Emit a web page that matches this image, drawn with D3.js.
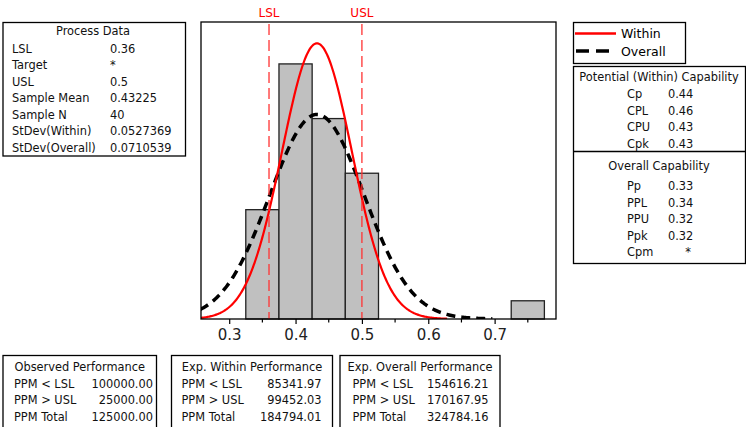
<!DOCTYPE html>
<html>
<head>
<meta charset="utf-8">
<script src="https://cdn.jsdelivr.net/npm/d3@7"></script>
<style>
  body { margin: 0; background: #fff; }
  svg { display: block; font-family: "DejaVu Sans", Verdana, sans-serif; }
</style>
</head>
<body>
<svg id="svg"></svg>
<script>
const width = 746, height = 427;

// histogram
const binStarts = [0.325, 0.375, 0.425, 0.475, 0.725];
const binCounts = [6, 14, 11, 8, 1];
const binWidth = 0.05;
const sampleN = 40;
const lsl = 0.36, usl = 0.5;
const mean = 0.43225;
const sdWithin = 0.0527369;
const sdOverall = 0.0710539;
const majorTicks = [0.3, 0.4, 0.5, 0.6, 0.7];
const minorTicks = [0.35, 0.45, 0.55, 0.65, 0.75];

// text tables
const processLabels = ["LSL", "Target", "USL", "Sample Mean", "Sample N", "StDev(Within)", "StDev(Overall)"];
const processValues = ["0.36", "*", "0.5", "0.43225", "40", "0.0527369", "0.0710539"];
const withinCapLabels = ["Cp", "CPL", "CPU", "Cpk"];
const withinCapValues = ["0.44", "0.46", "0.43", "0.43"];
const overallCapLabels = ["Pp", "PPL", "PPU", "Ppk", "Cpm"];
const overallCapValues = ["0.33", "0.34", "0.32", "0.32", "*"];
const perfLabels = ["PPM < LSL", "PPM > USL", "PPM Total"];
const observedPerf = ["100000.00", "25000.00", "125000.00"];
const withinPerf = ["85341.97", "99452.03", "184794.01"];
const overallPerf = ["154616.21", "170167.95", "324784.16"];

const svg = d3.select("#svg").attr("width", width).attr("height", height);

const plot = { left: 201, right: 556, top: 22, bottom: 319 };
const x = d3.scaleLinear().domain([0.2575, 0.7925]).range([plot.left, plot.right]);
const y = d3.scaleLinear().domain([0, 16.3]).range([plot.bottom, plot.top]);

svg.append("defs").append("clipPath").attr("id", "plotClip")
    .append("rect")
    .attr("x", plot.left).attr("y", plot.top)
    .attr("width", plot.right - plot.left).attr("height", plot.bottom - plot.top);

// bars
svg.append("g").selectAll("rect")
    .data(binStarts.map((s, i) => ({ x0: s, x1: s + binWidth, n: binCounts[i] })))
    .enter()
    .append("rect")
    .attr("x", d => x(d.x0))
    .attr("y", d => y(d.n))
    .attr("width", d => x(d.x1) - x(d.x0))
    .attr("height", d => y(0) - y(d.n))
    .style("fill", "#c0c0c0")
    .style("stroke", "#222")
    .style("stroke-width", 1.3);

// fitted normal curves, scaled to counts
function normalCurve(mu, sd) {
    let scale = sampleN * binWidth / (sd * Math.sqrt(2 * Math.PI));
    return d3.range(0, 301).map(i => {
        let v = mu - 3.72 * sd + i * (7.44 * sd) / 300;
        let z = (v - mu) / sd;
        return [v, scale * Math.exp(-0.5 * z * z)];
    });
}

const line = d3.line().x(d => x(d[0])).y(d => y(d[1]));

const curves = svg.append("g").attr("clip-path", "url(#plotClip)");
curves.append("path")
    .attr("d", line(normalCurve(mean, sdOverall)))
    .style("fill", "none")
    .style("stroke", "#000")
    .style("stroke-width", 3.5)
    .style("stroke-dasharray", "9,6");
curves.append("path")
    .attr("d", line(normalCurve(mean, sdWithin)))
    .style("fill", "none")
    .style("stroke", "#f00")
    .style("stroke-width", 2.2);

// spec limits
[[lsl, "LSL"], [usl, "USL"]].forEach(([v, name]) => {
    svg.append("line")
        .attr("x1", x(v)).attr("x2", x(v))
        .attr("y1", plot.top + 2).attr("y2", plot.bottom)
        .style("stroke", "#f33")
        .style("stroke-width", 1.3)
        .style("stroke-dasharray", "11,5");
    svg.append("text")
        .attr("x", x(v)).attr("y", 17)
        .attr("text-anchor", "middle")
        .style("font-size", "12px")
        .style("fill", "#f00")
        .text(name);
});

// frame
svg.append("rect")
    .attr("x", plot.left).attr("y", plot.top)
    .attr("width", plot.right - plot.left).attr("height", plot.bottom - plot.top)
    .style("fill", "none")
    .style("stroke", "#000")
    .style("stroke-width", 1.3);

// x axis
const axis = svg.append("g").attr("transform", `translate(0,${plot.bottom})`)
    .call(d3.axisBottom(x).tickValues(majorTicks).tickSize(5).tickPadding(5).tickFormat(d3.format(".1f")));
axis.select(".domain").remove();
axis.selectAll("text").style("font-size", "15px").style("font-family", "DejaVu Sans").style("fill", "#222");
axis.selectAll("line").style("stroke-width", 1.2);

svg.append("g").selectAll("line")
    .data(minorTicks)
    .enter()
    .append("line")
    .attr("x1", d => x(d)).attr("x2", d => x(d))
    .attr("y1", plot.bottom).attr("y2", plot.bottom + 3.5)
    .style("stroke", "#000")
    .style("stroke-width", 1.2);

// helpers for boxes
function box(x0, y0, w, h) {
    svg.append("rect")
        .attr("x", x0).attr("y", y0).attr("width", w).attr("height", h)
        .style("fill", "none")
        .style("stroke", "#000")
        .style("stroke-width", 1.3);
}

function label(tx, ty, str, anchor) {
    svg.append("text")
        .attr("x", tx).attr("y", ty)
        .attr("text-anchor", anchor || "start")
        .style("font-size", "11.4px")
        .style("fill", "#111")
        .text(str);
}

// process data
box(3, 22.5, 182.5, 133.5);
label(93, 35, "Process Data", "middle");
processLabels.forEach((s, i) => {
    label(12, 52.5 + i * 16.5, s);
    label(110, 52.5 + i * 16.5, processValues[i]);
});

// legend
box(573.5, 22.5, 112, 41);
svg.append("line")
    .attr("x1", 575).attr("x2", 616).attr("y1", 33.5).attr("y2", 33.5)
    .style("stroke", "#f00").style("stroke-width", 2.5);
svg.append("line")
    .attr("x1", 576).attr("x2", 616).attr("y1", 51).attr("y2", 51)
    .style("stroke", "#000").style("stroke-width", 3.5).style("stroke-dasharray", "13,7");
svg.append("text").attr("x", 621).attr("y", 38).style("font-size", "12.5px").text("Within");
svg.append("text").attr("x", 621).attr("y", 56).style("font-size", "12.5px").text("Overall");

// capability
box(573.5, 66.5, 172, 197);
svg.append("line")
    .attr("x1", 573.5).attr("x2", 745.5).attr("y1", 151.5).attr("y2", 151.5)
    .style("stroke", "#000").style("stroke-width", 1.3);
label(659, 80.5, "Potential (Within) Capability", "middle");
withinCapLabels.forEach((s, i) => {
    label(627, 98 + i * 16.7, s);
    label(668, 98 + i * 16.7, withinCapValues[i]);
});
label(659, 170, "Overall Capability", "middle");
overallCapLabels.forEach((s, i) => {
    label(627, 190 + i * 16.6, s);
    if (overallCapValues[i] === "*") label(688, 190 + i * 16.6, "*", "middle");
    else label(668, 190 + i * 16.6, overallCapValues[i]);
});

// performance boxes
const perfBoxes = [
    { x0: 3, x1: 156.5, title: "Observed Performance", vals: observedPerf, lx: 14, vx: 153 },
    { x0: 171.5, x1: 332.5, title: "Exp. Within Performance", vals: withinPerf, lx: 181.5, vx: 321.5 },
    { x0: 340, x1: 500, title: "Exp. Overall Performance", vals: overallPerf, lx: 352.5, vx: 488.5 }
];
perfBoxes.forEach(b => {
    box(b.x0, 355.5, b.x1 - b.x0, 80);
    label((b.x0 + b.x1) / 2, 371, b.title, "middle");
    perfLabels.forEach((s, i) => {
        label(b.lx, 387.5 + i * 16.7, s);
        label(b.vx, 387.5 + i * 16.7, b.vals[i], "end");
    });
});
</script>
</body>
</html>
